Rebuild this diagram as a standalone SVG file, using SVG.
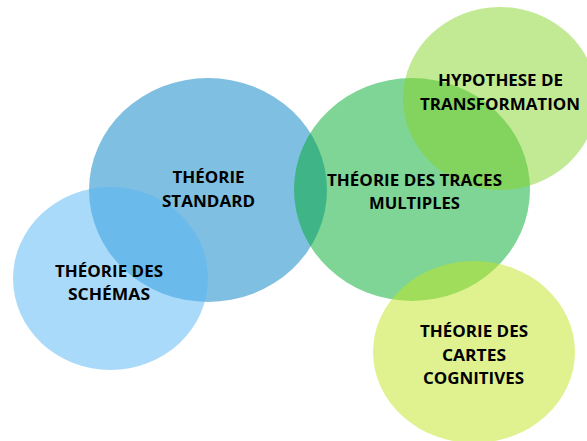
<svg xmlns="http://www.w3.org/2000/svg" width="587" height="441" viewBox="0 0 587 441">
<style>
.c{fill-opacity:0.5;stroke:none}
.t{font-family:"Open Sans","Liberation Sans",Arial,sans-serif;font-weight:bold;font-size:16px;fill:#000;text-anchor:middle}
</style>
<rect width="587" height="441" fill="#fff"/>
<g id="standard"><ellipse class="c" cx="208" cy="190" rx="119" ry="112" fill="#007fc5"/></g>
<g id="schemas"><ellipse class="c" cx="110.5" cy="278.5" rx="97.5" ry="91.5" fill="#55b5f5"/></g>
<g id="traces"><ellipse class="c" cx="412" cy="189.5" rx="118" ry="111.5" fill="#00ab2b"/></g>
<g id="hypothese"><ellipse class="c" cx="500" cy="98.5" rx="97" ry="91.5" fill="#85d329"/></g>
<g id="cartes"><ellipse class="c" cx="474" cy="352" rx="101" ry="91" fill="#bfe51f"/></g>
<g id="connectors"></g>
<g id="labels">
<text class="t" x="208.5" y="183" textLength="72" lengthAdjust="spacingAndGlyphs">THÉORIE</text>
<text class="t" x="208.5" y="206.5" textLength="93" lengthAdjust="spacingAndGlyphs">STANDARD</text>
<text class="t" x="109" y="276.5" textLength="108" lengthAdjust="spacingAndGlyphs">THÉORIE DES</text>
<text class="t" x="109" y="299.5" textLength="82" lengthAdjust="spacingAndGlyphs">SCHÉMAS</text>
<text class="t" x="414.5" y="186" textLength="175" lengthAdjust="spacingAndGlyphs">THÉORIE DES TRACES</text>
<text class="t" x="414.5" y="209" textLength="91" lengthAdjust="spacingAndGlyphs">MULTIPLES</text>
<text class="t" x="500.5" y="86" textLength="125" lengthAdjust="spacingAndGlyphs">HYPOTHESE DE</text>
<text class="t" x="500" y="110" textLength="160" lengthAdjust="spacingAndGlyphs">TRANSFORMATION</text>
<text class="t" x="474" y="337" textLength="108" lengthAdjust="spacingAndGlyphs">THÉORIE DES</text>
<text class="t" x="474" y="361" textLength="64" lengthAdjust="spacingAndGlyphs">CARTES</text>
<text class="t" x="473.5" y="384" textLength="101" lengthAdjust="spacingAndGlyphs">COGNITIVES</text>
</g>
</svg>
